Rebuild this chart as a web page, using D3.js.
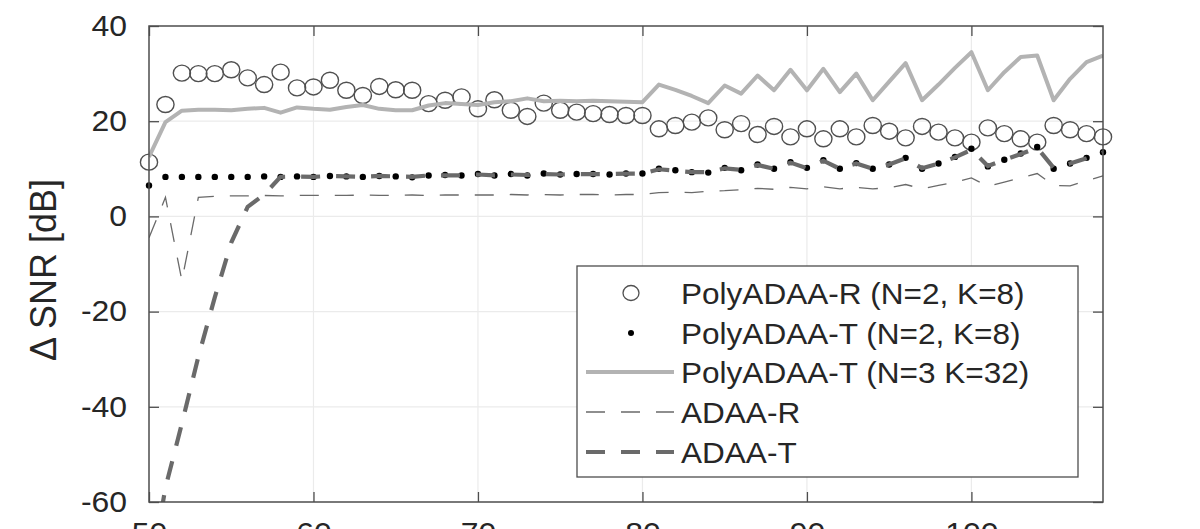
<!DOCTYPE html>
<html>
<head>
<meta charset="utf-8">
<script src="https://cdn.jsdelivr.net/npm/d3@7/dist/d3.min.js"></script>
<style>
  html, body { margin: 0; padding: 0; background: #fff; }
  svg { display: block; }
  text { font-family: "Liberation Sans", Arial, Helvetica, sans-serif; fill: #262626; }
</style>
</head>
<body>
<svg id="chart" width="1200" height="529"></svg>
<script>
// ---------- data ----------
const xValues = [50,51,52,53,54,55,56,57,58,59,60,61,62,63,64,65,66,67,68,69,70,71,72,73,74,75,76,77,78,79,
                 80,81,82,83,84,85,86,87,88,89,90,91,92,93,94,95,96,97,98,99,100,101,102,103,104,105,106,107,108];

// PolyADAA-R (N=2, K=8) - open circles
const polyR = [11.4,23.5,30.1,30.0,30.0,30.8,29.1,27.7,30.3,27.0,27.2,28.6,26.5,25.4,27.3,26.6,26.5,23.7,24.4,25.1,
               22.6,24.5,22.3,21.0,23.8,22.3,21.9,21.6,21.4,21.2,21.2,18.4,19.1,19.8,20.7,18.2,19.5,17.2,18.9,16.7,
               18.4,16.3,18.4,16.7,19.1,17.9,16.5,18.9,17.7,16.5,15.6,18.6,17.4,16.3,15.6,19.1,18.2,17.4,16.7];

// PolyADAA-T (N=2, K=8) - dots
const polyT2 = [6.5,8.3,8.3,8.3,8.3,8.3,8.3,8.4,8.3,8.4,8.3,8.5,8.4,8.3,8.5,8.4,8.2,8.6,8.7,8.6,
                8.9,8.6,8.9,8.6,9.0,8.8,8.9,8.9,8.8,9.0,9.0,10.0,9.7,9.3,9.2,10.2,9.7,10.9,10.0,11.4,
                10.2,11.8,10.0,11.2,10.0,10.9,12.3,10.0,11.1,12.5,14.2,10.5,11.9,13.2,14.6,10.0,11.1,12.3,13.5];

// PolyADAA-T (N=3 K=32) - light gray solid line
const polyT3 = [12.5,19.8,22.2,22.4,22.4,22.3,22.6,22.8,21.8,22.9,22.6,22.4,23.0,23.4,22.6,22.3,22.3,23.3,23.8,23.6,
                23.4,24.0,24.2,24.8,24.2,24.3,24.2,24.3,24.2,24.1,24.0,27.7,26.6,25.3,23.8,27.5,25.8,29.6,26.5,30.8,
                26.5,31.0,26.1,30.0,24.4,28.3,32.2,24.4,27.7,31.2,34.5,26.5,30.3,33.5,33.8,24.4,28.9,32.4,33.8];

// ADAA-R - thin dashed
const adaaR = [-4.5,4.0,-13.5,4.0,4.2,4.3,4.3,4.4,4.3,4.4,4.4,4.4,4.4,4.5,4.4,4.4,4.5,4.4,4.5,4.5,
               4.5,4.5,4.6,4.5,4.6,4.5,4.6,4.6,4.5,4.6,4.6,5.0,5.1,5.0,5.3,5.4,5.6,5.9,5.7,6.1,
               5.8,6.2,5.8,6.1,5.8,6.0,6.7,5.8,6.5,7.2,8.1,6.3,7.2,8.1,9.0,6.5,6.4,7.5,8.5];

// ADAA-T - thick dashed
const adaaT = [-77,-57,-43.5,-29.5,-17,-5.5,2.0,4.6,8.3,8.4,8.3,8.5,8.4,8.3,8.5,8.4,8.3,8.6,8.6,8.6,
               8.8,8.6,8.8,8.7,8.9,8.8,8.9,8.9,8.9,9.0,9.0,9.9,9.6,9.3,9.3,10.1,9.8,10.8,10.0,11.3,
               10.1,11.7,10.0,11.1,10.0,10.9,12.2,10.1,11.1,12.4,14.0,10.6,11.9,13.1,14.4,10.2,11.1,12.2,13.4];

const xTicks = [50,60,70,80,90,100];
const yTicks = [-60,-40,-20,0,20,40];
const legendLabels = ["PolyADAA-R (N=2, K=8)","PolyADAA-T (N=2, K=8)","PolyADAA-T (N=3 K=32)","ADAA-R","ADAA-T"];
const yLabel = "\u0394 SNR [dB]";

// ---------- layout ----------
const L = 149, R = 1103, T = 26, B = 502;
const SX = 1.1; // horizontal stretch of the reference's lettering
const svg = d3.select("#chart");
const x = d3.scaleLinear().domain([50,108]).range([L,R]);
const y = d3.scaleLinear().domain([-60,40]).range([B,T]);

const boxColor = "#4d4d4d";
const gridColor = "#ebebeb";
const fmt = d => String(d);

// grid
const g = svg.append("g");
g.selectAll(".vg").data(xTicks.filter(d => d > 50)).join("line")
  .attr("x1", d => x(d)).attr("x2", d => x(d)).attr("y1", T).attr("y2", B)
  .attr("stroke", gridColor).attr("stroke-width", 1.2);
g.selectAll(".hg").data(yTicks.filter(d => d > -60 && d < 40)).join("line")
  .attr("y1", d => y(d)).attr("y2", d => y(d)).attr("x1", L).attr("x2", R)
  .attr("stroke", gridColor).attr("stroke-width", 1.2);

// axes
function styleAxis(sel) {
  sel.select(".domain").remove();
  sel.selectAll(".tick line").attr("stroke", boxColor).attr("stroke-width", 1.3);
  sel.selectAll(".tick text").attr("fill", "#262626").attr("font-size", 29)
     .attr("font-family", '"Liberation Sans", Arial, sans-serif');
}
const yAx = svg.append("g").attr("transform", `translate(${L},0)`)
  .call(d3.axisLeft(y).tickValues(yTicks).tickSize(-10).tickPadding(22).tickFormat(fmt))
  .call(styleAxis);
yAx.selectAll(".tick text").attr("x", -22 / SX).attr("transform", `scale(${SX},1)`);

svg.append("g").attr("transform", `translate(${R},0)`)
  .call(d3.axisRight(y).tickValues(yTicks).tickSize(-10).tickFormat(""))
  .call(styleAxis);
const xAx = svg.append("g").attr("transform", `translate(0,${B})`)
  .call(d3.axisBottom(x).tickValues(xTicks).tickSize(-10).tickPadding(20).tickFormat(fmt))
  .call(styleAxis);
xAx.selectAll(".tick text").attr("transform", `scale(${SX},1)`);
svg.append("g").attr("transform", `translate(0,${T})`)
  .call(d3.axisTop(x).tickValues(xTicks).tickSize(-10).tickFormat(""))
  .call(styleAxis);

// clip
svg.append("clipPath").attr("id","clip").append("rect")
  .attr("x", L).attr("y", T).attr("width", R-L).attr("height", B-T);

const idx = d3.range(xValues.length);
const lineGen = arr => d3.line().x(i => x(xValues[i])).y(i => y(arr[i]))(idx);

// circles
svg.append("g").selectAll("ellipse").data(idx).join("ellipse")
  .attr("cx", i => x(xValues[i])).attr("cy", i => y(polyR[i])).attr("rx", 8.6).attr("ry", 8)
  .attr("fill", "none").attr("stroke", "#505050").attr("stroke-width", 1.4);

// dots
svg.append("g").selectAll("circle").data(idx).join("circle")
  .attr("cx", i => x(xValues[i])).attr("cy", i => y(polyT2[i])).attr("r", 3.2)
  .attr("fill", "#000");

const lines = svg.append("g").attr("clip-path", "url(#clip)");
lines.append("path").attr("d", lineGen(polyT3)).attr("fill","none")
  .attr("stroke", "#b3b3b3").attr("stroke-width", 4).attr("stroke-linejoin","round");
lines.append("path").attr("d", lineGen(adaaR)).attr("fill","none")
  .attr("stroke", "#6a6a6a").attr("stroke-width", 1.3).attr("stroke-dasharray", "19,16");
lines.append("path").attr("d", lineGen(adaaT)).attr("fill","none")
  .attr("stroke", "#6a6a6a").attr("stroke-width", 4.2).attr("stroke-dasharray", "19,16");

// box
svg.append("rect").attr("x", L).attr("y", T).attr("width", R-L).attr("height", B-T)
  .attr("fill","none").attr("stroke", boxColor).attr("stroke-width", 1.5);

// y label
svg.append("text").attr("transform", `translate(56,270) rotate(-90)`)
  .attr("text-anchor","middle").attr("font-size", 36).text(yLabel);

// legend
const lg = svg.append("g");
lg.append("rect").attr("x", 577).attr("y", 266).attr("width", 501).attr("height", 211)
  .attr("fill","#fff").attr("stroke", boxColor).attr("stroke-width", 1.3);
const rowY = [293, 333, 372, 412, 452];
lg.selectAll("text.leg").data(legendLabels).join("text")
  .attr("transform", (d,i) => `translate(681,${rowY[i] + 10.5}) scale(1.07,1)`)
  .attr("font-size", 29.5).text(d => d);
lg.append("ellipse").attr("cx", 631).attr("cy", rowY[0]).attr("rx", 8).attr("ry", 7.5)
  .attr("fill","none").attr("stroke","#505050").attr("stroke-width",1.3);
lg.append("circle").attr("cx", 631).attr("cy", rowY[1]).attr("r", 3)
  .attr("fill","#000");
lg.append("line").attr("x1",586).attr("x2",674).attr("y1",rowY[2]).attr("y2",rowY[2])
  .attr("stroke","#b3b3b3").attr("stroke-width",4);
lg.append("line").attr("x1",586).attr("x2",674).attr("y1",rowY[3]).attr("y2",rowY[3])
  .attr("stroke","#6a6a6a").attr("stroke-width",1.3).attr("stroke-dasharray","19,16");
lg.append("line").attr("x1",586).attr("x2",674).attr("y1",rowY[4]).attr("y2",rowY[4])
  .attr("stroke","#6a6a6a").attr("stroke-width",4.2).attr("stroke-dasharray","19,16");
</script>
</body>
</html>
